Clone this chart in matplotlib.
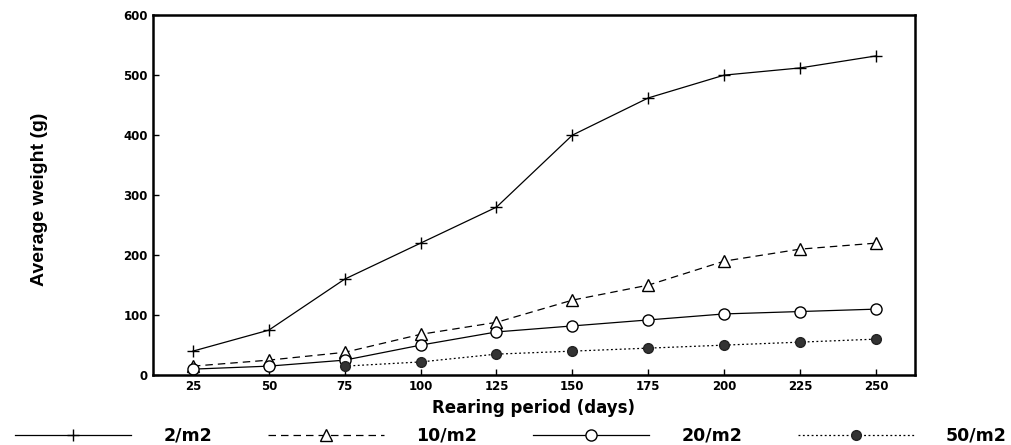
import numpy as np
import matplotlib.pyplot as plt

days = [25, 50, 75, 100, 125, 150, 175, 200, 225, 250]
w_2 = [40, 75, 160, 220, 280, 400, 462, 500, 512, 532]
w_10 = [15, 25, 38, 68, 88, 125, 150, 190, 210, 220]
w_20 = [10, 15, 25, 50, 72, 82, 92, 102, 106, 110]
days_50 = [75, 100, 125, 150, 175, 200, 225, 250]
w_50 = [15, 22, 35, 40, 45, 50, 55, 60]

fig = plt.figure(figsize=(10.12, 4.45), dpi=100)
ax = fig.add_axes([0.151, 0.157, 0.753, 0.809])

ax.plot(days, w_2, '-', color='black', lw=0.9, marker='+', ms=8, mew=1, label='2/m2')
ax.plot(days, w_10, color='black', lw=0.9, ls=(0, (6, 4)), marker='^', ms=8,
        mfc='white', mec='black', mew=1, label='10/m2')
ax.plot(days, w_20, '-', color='black', lw=0.9, marker='o', ms=8,
        mfc='white', mec='black', mew=1, label='20/m2')
ax.plot(days_50, w_50, color='black', lw=0.9, ls=(0, (1.5, 2)), marker='o', ms=7,
        mfc='#333333', mec='#222222', label='50/m2')

ax.set_xlim(11.8, 262.8)
ax.set_ylim(0, 600)
ax.set_xticks(days)
ax.set_yticks(np.arange(0, 601, 100))
ax.tick_params(direction='in', length=4, width=1, labelsize=8.5)
for lab in ax.get_xticklabels() + ax.get_yticklabels():
    lab.set_fontweight('bold')
for s in ax.spines.values():
    s.set_linewidth(1.8)

ax.set_xlabel('Rearing period (days)', fontsize=12, fontweight='bold', labelpad=4)
fig.text(40 / 1012, 1 - 199 / 445, 'Average weight (g)', rotation=90,
         ha='center', va='center', fontsize=14, fontweight='bold',
         family='Liberation Sans')

fig.legend(loc='lower center', bbox_to_anchor=(0.505, -0.035), ncol=4, frameon=False,
           handlelength=6.7, handletextpad=1.85, columnspacing=3.2,
           prop={'weight': 'bold', 'size': 12.5})

fig.savefig('out.png', dpi=100)
